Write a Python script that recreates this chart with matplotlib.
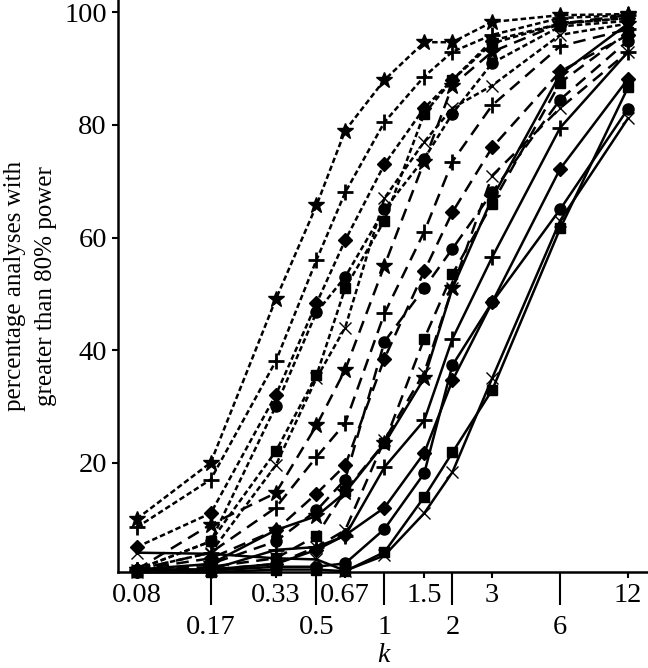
import numpy as np
import matplotlib.pyplot as plt

plt.rcParams['font.family'] = ['Liberation Serif', 'DejaVu Serif']

# k values on the x axis
k_vals = [0.08, 0.17, 0.33, 0.5, 0.67, 1, 1.5, 2, 3, 6, 12]
top_row = [0.08, 0.33, 0.67, 1.5, 3, 12]
bottom_row = [0.17, 0.5, 1, 2, 6]

# dotted group (left curves)
dot_star = [10, 20, 49, 65.7, 79, 88, 94.7, 94.7, 98.3, 99.5, 99.7]
dot_plus = [8.5, 17, 38, 56, 68, 80.5, 88.6, 93, 96, 99, 99.5]
dot_diamond = [5, 11, 32, 48.3, 59.5, 73, 83, 88, 95, 98, 99]
dot_circle = [1, 6, 30, 46.7, 53, 65, 74, 82, 91, 97.5, 98.5]
dot_square = [1, 6, 22, 35.5, 51, 63, 82, 88, 94.5, 98, 99]
dot_x = [1, 4, 19.5, 35, 44, 67, 77, 83, 87, 96, 98]

# dashed group (middle curves)
dash_star = [1, 9, 14.6, 26.6, 36.5, 55, 73.5, 87, 93, 98, 99.5]
dash_plus = [1, 4, 12, 21, 27, 46.5, 61, 73.5, 83.5, 94, 97]
dash_diamond = [1, 3, 8, 14.5, 19.5, 38.5, 54, 64.5, 76, 89.5, 96]
dash_circle = [0.5, 2, 6, 11.5, 17, 41.5, 51, 58, 68, 84.5, 95]
dash_square = [0.5, 1.5, 3, 7, 15, 23.5, 42, 53.5, 66, 87.5, 96.5]
dash_x = [0.5, 1, 2, 5, 8, 24, 36, 51, 71, 83, 93]

# solid group (right curves)
sol_star = [1, 2, 8, 10.5, 14.7, 23.4, 35, 51, 67, 89, 98]
sol_plus = [1, 1, 4.5, 5, 7, 19.2, 27.5, 42, 56.5, 79.5, 93]
sol_diamond = [1, 1, 2, 4.5, 7.1, 12, 21.7, 34.6, 48.5, 72.2, 88.2]
sol_circle = [1, 0.8, 1.5, 1.5, 2.1, 8.2, 18.1, 37.3, 48.5, 65, 82.9]
sol_square = [0.5, 0.5, 1, 1, 0.7, 4.1, 13.9, 21.8, 32.9, 61.6, 86.7]
sol_x = [4, 3.8, 3, 2.8, 0.8, 3.5, 11, 18.3, 35, 63, 81.2]

markers = {'star': ('*', 12, 1), 'plus': ('+', 12, 2), 'diamond': ('D', 7, 1),
           'circle': ('o', 8, 1), 'square': ('s', 7, 1), 'x': ('x', 8, 1)}

groups = [
    ((0, (2.2, 1.2)), {'star': dot_star, 'plus': dot_plus, 'diamond': dot_diamond,
                       'circle': dot_circle, 'square': dot_square, 'x': dot_x}),
    ((0, (5, 3)), {'star': dash_star, 'plus': dash_plus, 'diamond': dash_diamond,
                   'circle': dash_circle, 'square': dash_square, 'x': dash_x}),
    ('-', {'star': sol_star, 'plus': sol_plus, 'diamond': sol_diamond,
           'circle': sol_circle, 'square': sol_square, 'x': sol_x}),
]

fig = plt.figure(figsize=(6.48, 6.68), dpi=100)
ax = fig.add_axes([0.182, 0.144, 0.818, 0.856])

for ls, series in groups:
    for name, vals in series.items():
        m, ms, mew = markers[name]
        ax.plot(k_vals, vals, color='black', linestyle=ls, linewidth=1.8,
                marker=m, markersize=ms, markeredgewidth=mew, clip_on=False)

ax.set_xscale('log')
ax.set_xlim(0.066, 14.7)
ax.set_ylim(0.6, 102.2)

ax.set_xticks(top_row, [f'{v:g}' for v in top_row])
ax.set_xticks(bottom_row, [f'{v:g}' for v in bottom_row], minor=True)
ax.tick_params(axis='x', which='major', length=4.5, width=1.5, pad=3.5, labelsize=20.5)
ax.tick_params(axis='x', which='minor', length=24, width=1.5, pad=7, labelsize=20.5)
ax.set_yticks([20, 40, 60, 80, 100])
ax.tick_params(axis='y', length=4, width=1.5, pad=4, labelsize=20.5)

for s in ['top', 'right']:
    ax.spines[s].set_visible(False)
for s in ['left', 'bottom']:
    ax.spines[s].set_linewidth(1.8)

fig.text(0.591, 1 - 655 / 668, 'k', fontsize=20, style='italic',
         ha='center', va='center')
ax.set_ylabel('percentage analyses with\ngreater than 80% power', fontsize=18,
              linespacing=1.5)
ax.yaxis.set_label_coords(-0.115, 0.5)

fig.savefig('out.png', dpi=100)
